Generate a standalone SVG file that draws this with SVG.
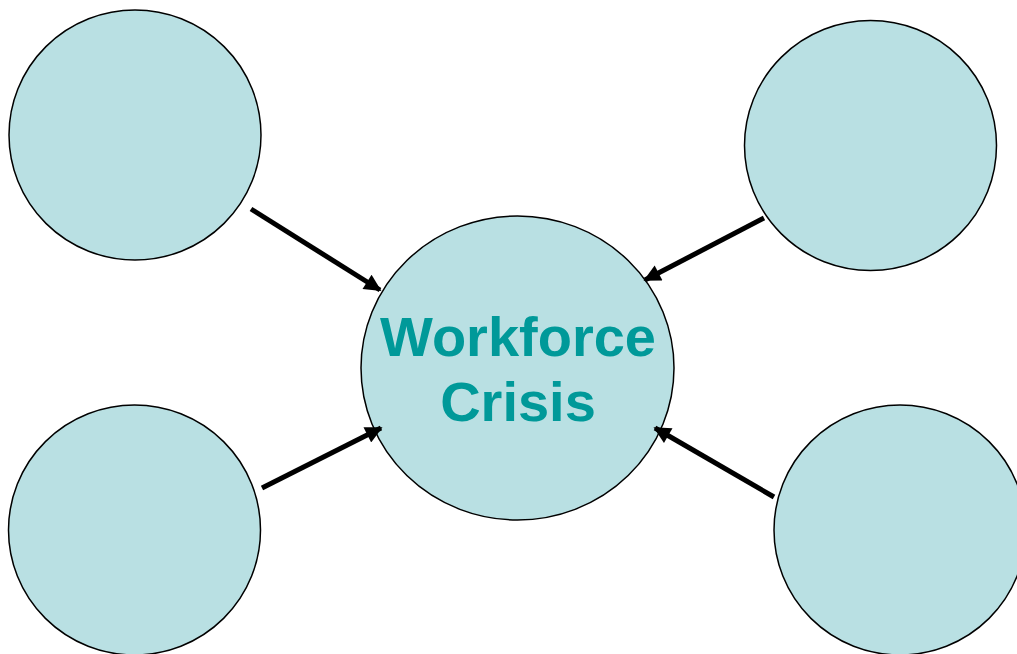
<svg xmlns="http://www.w3.org/2000/svg" width="1017" height="654" viewBox="0 0 1017 654">
  <style>
    .bubble { fill: #B9E0E3; stroke: #000; stroke-width: 1.5; }
    .link { stroke: #000; stroke-width: 5; fill: none; marker-end: url(#head); }
    .title { font-family: "Liberation Sans", Arial, sans-serif; font-weight: bold; font-size: 56px; fill: #009999; text-anchor: middle; }
  </style>
  <defs>
    <marker id="head" viewBox="0 0 10 10" refX="9" refY="5" markerWidth="4.2" markerHeight="3.4" orient="auto" markerUnits="strokeWidth">
      <path d="M0,0 L10,5 L0,10 z" fill="#000"/>
    </marker>
  </defs>
  <rect width="1017" height="654" fill="#fff"/>

  <g id="node-top-left"><ellipse class="bubble" cx="135" cy="135" rx="126" ry="125"/></g>
  <g id="node-top-right"><ellipse class="bubble" cx="870.5" cy="145.5" rx="126" ry="125"/></g>
  <g id="node-bottom-left"><ellipse class="bubble" cx="134.5" cy="530" rx="126" ry="125"/></g>
  <g id="node-bottom-right"><ellipse class="bubble" cx="900" cy="530" rx="126" ry="125"/></g>
  <g id="node-center">
    <ellipse class="bubble" cx="517.5" cy="368" rx="156.5" ry="152"/>
    <text class="title" x="518" y="356">Workforce</text>
    <text class="title" x="518" y="421">Crisis</text>
  </g>

  <g id="connectors">
    <line class="link" x1="251" y1="209" x2="380" y2="290"/>
    <line class="link" x1="764" y1="218" x2="645" y2="280"/>
    <line class="link" x1="262" y1="488" x2="381" y2="428"/>
    <line class="link" x1="774" y1="497" x2="655" y2="428"/>
  </g>
</svg>
